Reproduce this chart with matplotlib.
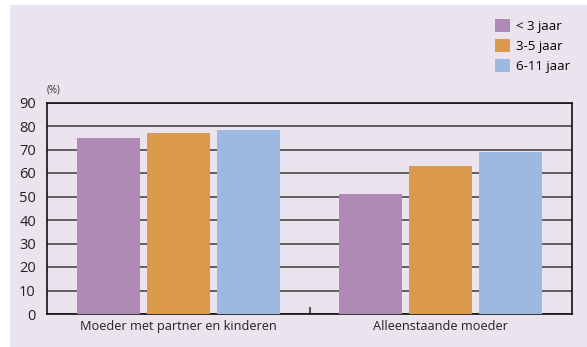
import numpy as np
import matplotlib.pyplot as plt
from matplotlib.patches import Rectangle

plt.rcParams['font.family'] = ['Open Sans', 'DejaVu Sans']

groups = ['Moeder met partner en kinderen', 'Alleenstaande moeder']
ages = ['< 3 jaar', '3-5 jaar', '6-11 jaar']
lt3 = [75, 51]
y3_5 = [77, 63]
y6_11 = [78.5, 69]
colors = ['#B08AB6', '#DB9A4B', '#9EB9E0']
bg = '#EBE4EE'

fig = plt.figure(figsize=(5.87, 3.47), dpi=100)
fig.patch.set_facecolor('white')
# lavender panel behind everything
fig.add_artist(Rectangle((10 / 587, 0), 1 - 10 / 587, 1 - 5 / 347,
                         transform=fig.transFigure, facecolor=bg,
                         edgecolor='none', zorder=-5))

ax = fig.add_axes([47 / 587, 1 - 314 / 347, 525 / 587, 211.5 / 347])
ax.set_facecolor(bg)

x = np.arange(len(groups))
step = 0.267
width = 0.239
series = [lt3, y3_5, y6_11]
for i, (vals, col, lab) in enumerate(zip(series, colors, ages)):
    ax.bar(x + (i - 1) * step, vals, width, color=col, label=lab, zorder=3)

ax.set_xlim(-0.5, 1.5)
ax.set_ylim(0, 90)
ax.set_yticks(np.arange(0, 100, 10))
ax.yaxis.grid(True, color='#3a3a3a', linewidth=1.1, zorder=1)
ax.set_axisbelow(True)
ax.tick_params(axis='y', length=0, pad=8, labelsize=10.5, colors='#222222')
ax.set_xticks(x)
ax.set_xticklabels(groups)
ax.tick_params(axis='x', length=0, pad=4, labelsize=9.2, colors='#222222')
ax.set_xticks([0.5], minor=True)
ax.tick_params(axis='x', which='minor', length=5, width=1.5, color='#555555',
               direction='in')
for s in ax.spines.values():
    s.set_color('#111111')
    s.set_linewidth(1.2)

ax.text(0, 1.035, '(%)', transform=ax.transAxes, fontsize=7, color='#333333',
        ha='left', va='bottom')

ax.legend(loc='upper left', bbox_to_anchor=(488 / 587, 1 - 12 / 347),
          bbox_transform=fig.transFigure, frameon=False, fontsize=9.5,
          handlelength=1.15, handleheight=1.15, handletextpad=0.5,
          labelspacing=0.45, borderpad=0)

fig.savefig('out.png', dpi=100, facecolor=fig.get_facecolor())
